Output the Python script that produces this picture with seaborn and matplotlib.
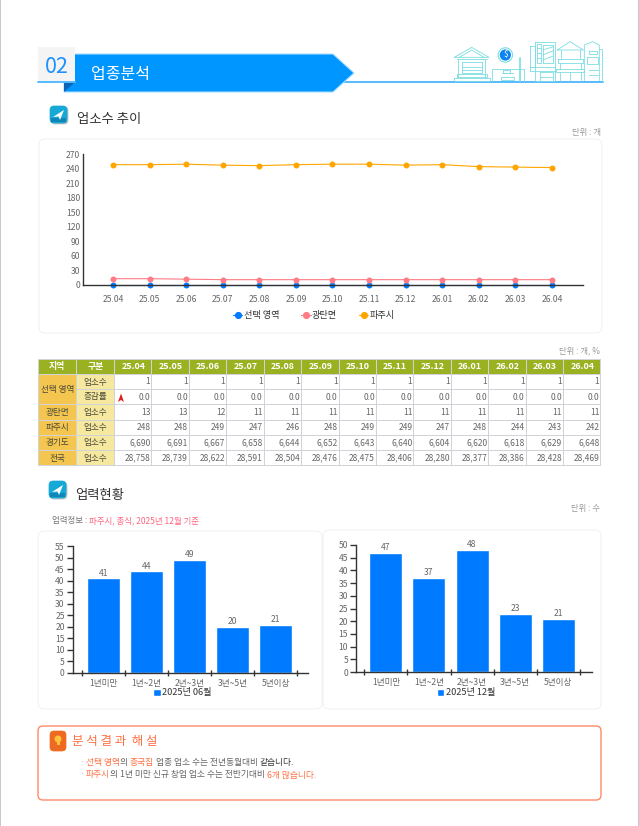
import matplotlib
matplotlib.use("Agg")
import matplotlib.pyplot as plt
from matplotlib.patches import Rectangle, FancyBboxPatch, Polygon, Circle
import pandas as pd
import seaborn as sns

months = ["25.04","25.05","25.06","25.07","25.08","25.09","25.10","25.11","25.12","26.01","26.02","26.03","26.04"]
selected = [1]*13
selected_rate = [0.0]*13
gwangtan = [13,13,12,11,11,11,11,11,11,11,11,11,11]
paju = [248,248,249,247,246,248,249,249,247,248,244,243,242]
gyeonggi = [6690,6691,6667,6658,6644,6652,6643,6640,6604,6620,6618,6629,6648]
national = [28758,28739,28622,28591,28504,28476,28475,28406,28280,28377,28386,28428,28469]
age_labels = ["1년미만","1년~2년","2년~3년","3년~5년","5년이상"]
age_june = [41,44,49,20,21]
age_dec = [47,37,48,23,21]
series_names = ["선택 영역","광탄면","파주시"]

sns.set_theme(style="white")
plt.rcParams['font.family'] = ['Noto Sans CJK KR','DejaVu Sans']
W,H = 639,826
BLUE,PINK,ORANGE = "#007bff","#ff7b85","#ffa500"
GRAY = "#666666"
fig = plt.figure(figsize=(W/100,H/100),dpi=100,facecolor="white")
bg = fig.add_axes([0,0,1,1]); bg.set_xlim(0,W); bg.set_ylim(H,0); bg.axis("off")

def axpx(l,t,r,b):
    a = fig.add_axes([l/W,1-b/H,(r-l)/W,(b-t)/H]); a.patch.set_alpha(0); return a
def rr(l,t,r,b,ec,lw=1,rad=6,fc="white",z=1):
    bg.add_patch(FancyBboxPatch((l+rad,t+rad),r-l-2*rad,b-t-2*rad,boxstyle=f"round,pad={rad}",ec=ec,fc=fc,lw=lw,zorder=z))
def segs(x,y,parts,size):
    r = fig.canvas.get_renderer()
    for s,c in parts:
        t = bg.text(x,y,s,color=c,fontsize=size,va="center",ha="left",zorder=6)
        x += t.get_window_extent(r).width
def icon(x,y,c1,c2,s=17):
    rr(x+1,y+1,x+s+1,y+s+1,"#bbbbbb",0.5,4,"#bbbbbb",3)
    rr(x,y,x+s,y+s,c1,0.5,4,c1,4)
    bg.add_patch(Rectangle((x+1,y+s-5),s-2,4,fc=c2,ec="none",zorder=4))

# page edges
bg.add_patch(Rectangle((0,0),1.2,H,fc="#c8c8c8",ec="none"))
bg.add_patch(Rectangle((637.5,0),1.5,H,fc="#c8c8c8",ec="none"))

# header banner
bg.plot([333,603],[82,82],color="#55bbff",lw=1.4,zorder=2)
bg.add_patch(Polygon([(64,54),(333,54),(354,73),(333,92),(64,92)],fc="#0096ff",ec="#a8dcff",lw=0.8,zorder=3))
bg.add_patch(Polygon([(64,82),(75,82),(64,92)],fc="#0b62b8",ec="none",zorder=4))
bg.add_patch(Rectangle((38,47),37,35,fc="#f4f4f4",ec="none",zorder=5))
bg.plot([38,75],[82,82],color="#55bbff",lw=1.4,zorder=6)
bg.text(56.5,67,"02",color="#1e90ff",fontsize=15.5,ha="center",va="center",zorder=6)
bg.text(91,74,"업종분석",color="white",fontsize=11.5,ha="left",va="center",zorder=6)

# skyline
def Z(pts): return [(320+a/3,30+b/3) for a,b in pts]
SK = "#7adde2"
def pl(pts,lw=0.6,c=SK):
    p = Z(pts); bg.plot([q[0] for q in p],[q[1] for q in p],color=c,lw=lw,zorder=2)
for pts in [
    [(403,82),(455,52),(507,82),(403,82)],[(418,82),(455,60),(492,82)],
    [(410,86),(500,86)],[(414,86),(414,140)],[(496,86),(496,140)],[(425,95),(485,95)],
    [(425,95),(425,130),(485,130),(485,95)],[(425,110),(485,110)],[(425,120),(485,120)],
    [(410,132),(500,132),(500,140),(410,140),(410,132)],[(403,145),(510,145),(510,152),(403,152),(403,145)],
    [(517,152),(517,117),(612,117),(612,152)],[(545,128),(578,128)],[(542,140),(582,140),(582,150),(542,150),(542,140)],
    [(550,120),(570,120),(570,128),(550,128),(550,120)],
    [(597,80),(597,152)],[(601,80),(601,152)],
    [(630,48),(645,48),(645,110),(630,110),(630,48)],[(645,35),(705,35),(705,152),(645,152),(645,35)],
    [(668,45),(700,45),(700,100),(668,100),(668,45)],[(668,60),(700,50)],[(668,75),(700,62)],[(668,90),(700,78)],
    [(652,42),(662,42),(662,100),(652,100),(652,42)],[(652,55),(662,55)],[(652,70),(662,70)],[(652,85),(662,85)],
    [(630,110),(705,110),(705,122),(630,122),(630,110)],[(660,126),(700,126),(700,152)],[(660,140),(700,140)],[(660,126),(660,152)],
    [(712,60),(750,35),(790,60),(712,60)],[(722,60),(722,85)],[(780,60),(780,85)],[(714,88),(788,88),(788,98),(714,98),(714,88)],
    [(708,118),(793,118),(793,126),(708,126),(708,118)],[(720,98),(720,118)],[(782,98),(782,118)],
    [(720,126),(720,152)],[(750,126),(750,152)],[(782,126),(782,152)],
    [(793,152),(793,45),(818,35),(838,45),(838,152)],[(838,58),(845,58),(845,152)],
    [(802,82),(835,82),(835,103),(802,103),(802,82)],[(806,120),(835,120)],[(806,135),(835,135)],[(806,62),(830,62),(830,72),(806,72),(806,62)],
    ]:
    pl(pts)
coin = Z([(556,75)])[0]
bg.add_patch(Circle(coin,7.2,fc="white",ec=SK,lw=0.8,zorder=3))
bg.add_patch(Circle(coin,5.6,fc="#0a84f0",ec="none",zorder=4))
bg.text(coin[0],coin[1],"$",color="white",fontsize=6,ha="center",va="center",zorder=5)

# section titles
icon(50,106,"#16a9d8","#0f86b8")
bg.add_patch(Polygon([(53,117),(64,110),(60,120),(58.5,116.5)],fc="white",ec="none",zorder=6))
bg.text(77,118.5,"업소수 추이",color="#333333",fontsize=9.6,va="center",zorder=6)
icon(49,481,"#16a9d8","#0f86b8")
bg.add_patch(Polygon([(52,492),(63,485),(59,495),(57.5,491.5)],fc="white",ec="none",zorder=6))
bg.text(75,494.5,"업력현황",color="#333333",fontsize=9.6,va="center",zorder=6)
for (x,y,s) in [(601,133,"단위 : 개"),(600,351,"단위 : 개, %"),(600,509,"단위 : 수")]:
    bg.text(x,y,s,color="#999999",fontsize=6,ha="right",va="center",zorder=6)

# panels
PANEL = "#eeeeee"
rr(39,139,602,333,PANEL,0.6)
rr(38,531,322,709,PANEL,0.6)
rr(323,530,601,709,PANEL,0.6)

# line chart
x0,dx = 113,36.58
axl,axr = 83,583
ax = axpx(axl,154,axr,285)
df = pd.DataFrame({"month":months*3,"value":selected+gwangtan+paju,
                   "region":sum([[n]*13 for n in series_names],[])})
df["idx"] = df["month"].map({m:i for i,m in enumerate(months)})
sns.lineplot(data=df,x="idx",y="value",hue="region",hue_order=series_names,palette=[BLUE,PINK,ORANGE],
             marker="o",markersize=4.3,markeredgewidth=0,linewidth=0.8,ax=ax,clip_on=False,errorbar=None)
ax.set_xlim((axl-x0)/dx,(axr-x0)/dx); ax.set_ylim(0,270)
ax.set_xticks(range(13),months); ax.set_yticks(range(0,271,30))
ax.set_xlabel(""); ax.set_ylabel("")
ax.tick_params(axis="both",length=0,labelsize=6.2,labelcolor=GRAY)
ax.tick_params(axis="x",pad=7.5); ax.tick_params(axis="y",pad=2)
sns.despine(ax=ax)
for s in ("left","bottom"):
    ax.spines[s].set_color("#333333"); ax.spines[s].set_linewidth(1)
h,l = ax.get_legend_handles_labels()
ax.legend(h,l,loc="center",bbox_to_anchor=(0.462,(285-316)/131),ncols=3,frameon=False,
          fontsize=6.6,handlelength=1,handletextpad=0.15,columnspacing=2.4,labelcolor="#333333",markerscale=1.2)

# table
cols = [38,76.5,114.5]+[114.5+37.42*i for i in range(1,14)]
rows = [359,374.5,389.5,404.5,420,435.5,450.5,465.5]
GREEN,AMB,PALE,LINE = "#9ab222","#f5c64f","#f7e8a0","#d0d4d8"
row_data = [("업소수",selected,"d"),("증감률",selected_rate,"f"),("업소수",gwangtan,"d"),("업소수",paju,"d"),("업소수",gyeonggi,"d"),("업소수",national,"d")]
def cell(l,t,r,b,fc): bg.add_patch(Rectangle((l+0.5,t+0.5),r-l-1,b-t-1,fc=fc,ec="none",zorder=2))
bg.add_patch(Rectangle((38,359),563,106.5,fc=LINE,ec="none",zorder=1))
for i,s in enumerate(["지역","구분"]+months):
    cell(cols[i],rows[0],cols[i+1],rows[1],GREEN)
    bg.text((cols[i]+cols[i+1])/2,(rows[0]+rows[1])/2,s,color="white",fontsize=6.4,ha="center",va="center",zorder=5,fontweight="bold")
regions = [("선택 영역",1,3),("광탄면",3,4),("파주시",4,5),("경기도",5,6),("전국",6,7)]
for n,a,b in regions:
    cell(cols[0],rows[a],cols[1],rows[b],AMB)
    bg.text((cols[0]+cols[1])/2,(rows[a]+rows[b])/2,n,color="#4a4a3a",fontsize=6.2,ha="center",va="center",zorder=5)
for j,(lab,vals,kind) in enumerate(row_data):
    t,b = rows[j+1],rows[j+2]
    cell(cols[1],t,cols[2],b,PALE)
    bg.text((cols[1]+cols[2])/2,(t+b)/2,lab,color="#4a4a3a",fontsize=6.2,ha="center",va="center",zorder=5)
    for i,v in enumerate(vals):
        cell(cols[i+2],t,cols[i+3],b,"white")
        bg.text(cols[i+3]-1.5,(t+b)/2,f"{v:.1f}" if kind=="f" else f"{v:,}",color="#666666",fontsize=6.1,ha="right",va="center",zorder=5)
bg.add_patch(Polygon([(118,402),(121,393.5),(124,402),(121,400)],fc="#e02020",ec="none",zorder=6))

# history
segs(52,521,[("업력정보 : ","#777777"),("파주시, 종식, 2025년 12월 기준","#ff6680")],6.1)

def bars(l,r,t,b,first_tick,vals,ymax,lab,legx):
    a = axpx(l,t,r,b)
    sns.barplot(x=list(range(5)),y=vals,color=BLUE,saturation=1,width=33/43,ax=a,label=lab,native_scale=True)
    a.set_xlim(-0.5+(l-first_tick)/43,-0.5+(r-first_tick)/43); a.set_ylim(0,ymax)
    a.set_xticks([i-0.5 for i in range(6)],minor=False,labels=[""]*6)
    a.set_xticks(range(5),age_labels,minor=True)
    a.set_yticks(range(0,ymax+1,5))
    a.tick_params(axis="x",which="major",bottom=True,direction="inout",length=5,width=1,color="#333333")
    a.tick_params(axis="x",which="minor",bottom=False,length=0,labelsize=6.2,labelcolor=GRAY,pad=4)
    a.tick_params(axis="y",direction="out",left=True,length=4.5,width=1,color="#333333",labelsize=6.2,labelcolor=GRAY,pad=1.5)
    sns.despine(ax=a)
    for s in ("left","bottom"):
        a.spines[s].set_color("#333333"); a.spines[s].set_linewidth(1)
    a.bar_label(a.containers[0],fontsize=6.2,color=GRAY,padding=0.5)
    a.legend(loc="center",bbox_to_anchor=(legx,(b-693)/(b-t)),frameon=False,fontsize=6.6,handlelength=0.8,handleheight=0.8,handletextpad=0.15,labelcolor="#333333")
bars(73,308,546,673,82,age_june,55,"2025년 06월",0.466)
bars(356.5,592,545,672,364.5,age_dec,50,"2025년 12월",0.465)

# callout
rr(38,726,601,800,"#ff8a6a",1,5)
rr(50,731,66,751,"#ee6a22",0.5,4,"#ee6a22",3)
bg.add_patch(Circle((58,739),3.5,fc="#ffc23a",ec="none",zorder=4))
bg.add_patch(Rectangle((56.5,742),3,3,fc="#ffc23a",ec="none",zorder=4))
bg.text(72,742,"분 석 결 과  해 설",color="#ff7043",fontsize=9,va="center",zorder=6)
TX,HL = "#666666","#ff7043"
bg.text(79,763,"·",color="#aaaaaa",fontsize=6.5,va="center",zorder=6)
bg.text(79,775,"·",color="#aaaaaa",fontsize=6.5,va="center",zorder=6)
segs(86,763,[("선택 영역",HL),("의 ",TX),("종국집",HL),(" 업종 업소 수는 전년동월대비 ",TX),("같습니다.","#333333")],6.3)
segs(86,775,[("파주시",HL),("의 1년 미만 신규 창업 업소 수는 전반기대비 ",TX),("6개 많습니다.",HL)],6.3)

fig.savefig("out.png",dpi=100)
